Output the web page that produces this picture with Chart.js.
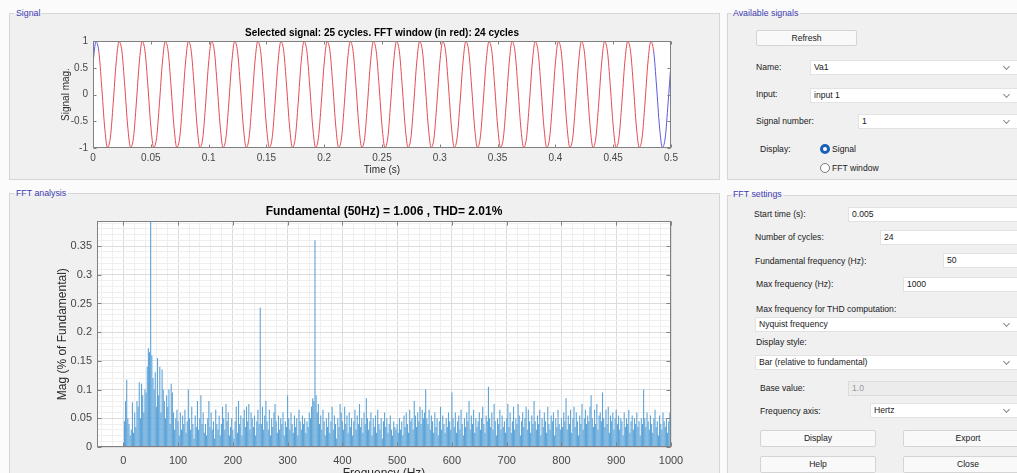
<!DOCTYPE html>
<html>
<head>
<meta charset="utf-8">
<title>FFT Analysis</title>
<script src="https://cdn.jsdelivr.net/npm/chart.js@4.4.0/dist/chart.umd.min.js"></script>
<style>
  html, body { margin: 0; padding: 0; width: 1017px; height: 473px; overflow: hidden; background: #fbfbfb;
    font-family: "Liberation Sans", Arial, Helvetica, sans-serif; }
  .panel { position: absolute; background: #f0f0f0; border: 1px solid #d6d6d6; box-sizing: border-box; }
  .ptitle { position: absolute; font-size: 8.8px; line-height: 10px; color: #3b3bb0; padding: 0 2px; z-index: 3;
    background: linear-gradient(to bottom, #fbfbfb 50%, #f0f0f0 50%); white-space: nowrap; }
  canvas { position: absolute; z-index: 2; }
  .lbl { position: absolute; font-size: 8.6px; line-height: 12px; color: #202020; white-space: nowrap; }
  .box { position: absolute; background: #ffffff; border: 1px solid #e2e2e2; box-sizing: border-box; height: 15px;
    font-size: 8.6px; line-height: 13px; padding-left: 3px; color: #202020; white-space: nowrap; }
  .box.dis { background: #ececec; color: #9a9a9a; border-color: #dcdcdc; }
  .dd::after { content: ""; position: absolute; right: 11px; top: 3px; width: 4px; height: 4px;
    border-right: 1px solid #8a8a8a; border-bottom: 1px solid #8a8a8a; transform: rotate(45deg); }
  .btn { position: absolute; background: #f9f9f9; border: 1px solid #d4d4d4; border-radius: 2px; box-sizing: border-box;
    text-align: center; font-size: 8.6px; color: #202020; }
  .radio { position: absolute; width: 10px; height: 10px; border-radius: 50%; box-sizing: border-box; }
  .radio.on { border: 3px solid #1c5fb8; background: #ffffff; }
  .radio.off { border: 1px solid #7a7a7a; background: #ffffff; }
</style>
</head>
<body>

<!-- left side: signal and spectrum panels -->
<div class="panel" style="left:9px; top:13px; width:711px; height:167px;"></div>
<div class="ptitle" style="left:14px; top:8px;">Signal</div>
<div class="panel" style="left:9px; top:193px; width:711px; height:300px;"></div>
<div class="ptitle" style="left:14px; top:188px;">FFT analysis</div>

<canvas id="signalChart" width="715" height="185" style="left:0; top:0;"></canvas>
<canvas id="fftChart" width="715" height="300" style="left:0; top:185px;"></canvas>

<!-- right side: signal selection -->
<div class="panel" style="left:727px; top:13px; width:300px; height:167px;"></div>
<div class="ptitle" style="left:731px; top:8px;">Available signals</div>
<div class="btn" style="left:756px; top:30px; width:101px; height:16px; line-height:14px;">Refresh</div>
<div class="lbl" style="left:756px; top:61px;">Name:</div>
<div class="box dd" style="left:810px; top:60px; width:211px;">Va1</div>
<div class="lbl" style="left:756px; top:88px;">Input:</div>
<div class="box dd" style="left:810px; top:88px; width:211px;">input 1</div>
<div class="lbl" style="left:756px; top:115px;">Signal number:</div>
<div class="box dd" style="left:858px; top:114px; width:163px;">1</div>
<div class="lbl" style="left:760px; top:143px;">Display:</div>
<div class="radio on" style="left:820px; top:144px;"></div>
<div class="lbl" style="left:832px; top:143px;">Signal</div>
<div class="radio off" style="left:820px; top:163px;"></div>
<div class="lbl" style="left:832px; top:162px;">FFT window</div>

<!-- right side: FFT settings -->
<div class="panel" style="left:727px; top:195px; width:300px; height:300px;"></div>
<div class="ptitle" style="left:731px; top:189px;">FFT settings</div>
<div class="lbl" style="left:754px; top:208px;">Start time (s):</div>
<div class="box" style="left:848px; top:207px; width:173px;">0.005</div>
<div class="lbl" style="left:755px; top:231px;">Number of cycles:</div>
<div class="box" style="left:880px; top:230px; width:141px;">24</div>
<div class="lbl" style="left:755px; top:255px;">Fundamental frequency (Hz):</div>
<div class="box" style="left:943px; top:253px; width:78px;">50</div>
<div class="lbl" style="left:756px; top:278px;">Max frequency (Hz):</div>
<div class="box" style="left:903px; top:277px; width:118px;">1000</div>
<div class="lbl" style="left:756px; top:303px;">Max frequency for THD computation:</div>
<div class="box dd" style="left:755px; top:317px; width:266px;">Nyquist frequency</div>
<div class="lbl" style="left:756px; top:336px;">Display style:</div>
<div class="box dd" style="left:755px; top:355px; width:266px;">Bar (relative to fundamental)</div>
<div class="lbl" style="left:760px; top:382px;">Base value:</div>
<div class="box dis" style="left:848px; top:381px; width:173px;">1.0</div>
<div class="lbl" style="left:760px; top:405px;">Frequency axis:</div>
<div class="box dd" style="left:870px; top:403px; width:151px;">Hertz</div>
<div class="btn" style="left:760px; top:430px; width:116px; height:17px; line-height:15px;">Display</div>
<div class="btn" style="left:903px; top:430px; width:130px; height:17px; line-height:15px;">Export</div>
<div class="btn" style="left:760px; top:456px; width:116px; height:17px; line-height:15px;">Help</div>
<div class="btn" style="left:903px; top:456px; width:130px; height:17px; line-height:15px;">Close</div>

<script>
// ---- recorded signal (Va1), sampled every 2.5 ms over 0 .. 0.5 s ----
const sampleStep = 0.0025;            // s
const signalMag = [
  0.588, 0.988, 0.809, 0.156, -0.588, -0.988, -0.809, -0.156,
  0.588, 0.988, 0.809, 0.156, -0.588, -0.988, -0.809, -0.156,
  0.588, 0.988, 0.809, 0.156, -0.588, -0.988, -0.809, -0.156,
  0.588, 0.988, 0.809, 0.156, -0.588, -0.988, -0.809, -0.156,
  0.588, 0.988, 0.809, 0.156, -0.588, -0.988, -0.809, -0.156,
  0.588, 0.988, 0.809, 0.156, -0.588, -0.988, -0.809, -0.156,
  0.588, 0.988, 0.809, 0.156, -0.588, -0.988, -0.809, -0.156,
  0.588, 0.988, 0.809, 0.156, -0.588, -0.988, -0.809, -0.156,
  0.588, 0.988, 0.809, 0.156, -0.588, -0.988, -0.809, -0.156,
  0.588, 0.988, 0.809, 0.156, -0.588, -0.988, -0.809, -0.156,
  0.588, 0.988, 0.809, 0.156, -0.588, -0.988, -0.809, -0.156,
  0.588, 0.988, 0.809, 0.156, -0.588, -0.988, -0.809, -0.156,
  0.588, 0.988, 0.809, 0.156, -0.588, -0.988, -0.809, -0.156,
  0.588, 0.988, 0.809, 0.156, -0.588, -0.988, -0.809, -0.156,
  0.588, 0.988, 0.809, 0.156, -0.588, -0.988, -0.809, -0.156,
  0.588, 0.988, 0.809, 0.156, -0.588, -0.988, -0.809, -0.156,
  0.588, 0.988, 0.809, 0.156, -0.588, -0.988, -0.809, -0.156,
  0.588, 0.988, 0.809, 0.156, -0.588, -0.988, -0.809, -0.156,
  0.588, 0.988, 0.809, 0.156, -0.588, -0.988, -0.809, -0.156,
  0.588, 0.988, 0.809, 0.156, -0.588, -0.988, -0.809, -0.156,
  0.588, 0.988, 0.809, 0.156, -0.588, -0.988, -0.809, -0.156,
  0.588, 0.988, 0.809, 0.156, -0.588, -0.988, -0.809, -0.156,
  0.588, 0.988, 0.809, 0.156, -0.588, -0.988, -0.809, -0.156,
  0.588, 0.988, 0.809, 0.156, -0.588, -0.988, -0.809, -0.156,
  0.588, 0.988, 0.809, 0.156, -0.588, -0.988, -0.809, -0.156,
  0.588
];
// FFT window: 24 cycles starting at 0.005 s (sample 2) and ending at 0.485 s (sample 194)
const windowFirstSample = 2;
const windowLastSample = 194;

const timeTicks = [0, 0.05, 0.1, 0.15, 0.2, 0.25, 0.3, 0.35, 0.4, 0.45, 0.5];
const timeTickLabels = ['0', '0.05', '0.1', '0.15', '0.2', '0.25', '0.3', '0.35', '0.4', '0.45', '0.5'];
const magTicks = [-1, -0.5, 0, 0.5, 1];
const magTickLabels = ['-1', '-0.5', '0', '0.5', '1'];

// ---- spectrum: magnitude in % of the 50 Hz fundamental, one bin per 50/24 Hz, 0 .. 1000 Hz ----
const fundamentalHz = 50;
const windowCycles = 24;
const fftMag = [
  // 0 - 48 Hz
  0, 0.045, 0.08, 0.117, 0.05, 0.04, 0.02, 0.03,   0.078, 0.025, 0.06, 0.035, 0.08, 0.07, 0.113, 0.05,   0.11, 0.09, 0.06, 0.1, 0.095, 0.14, 0.172, 0.165,
  // 50 - 98 Hz (fundamental first)
  100, 0.16, 0.12, 0.1, 0.13, 0.07, 0.155, 0.09,   0.14, 0.06, 0.135, 0.1, 0.08, 0.05, 0.09, 0.07,   0.1, 0.04, 0.11, 0.095, 0.06, 0.03, 0.05, 0.065,
  // 100 - 148 Hz
  0.045, 0.02, 0.06, 0.03, 0.055, 0.04, 0.065, 0.025,   0.045, 0.1, 0.05, 0.03, 0.07, 0.04, 0.015, 0.055,   0.035, 0.08, 0.03, 0.05, 0.09, 0.04, 0.06, 0.025,
  // 150 - 198 Hz
  0.04, 0.02, 0.05, 0.08, 0.035, 0.06, 0.03, 0.045,   0.015, 0.065, 0.04, 0.03, 0.055, 0.02, 0.04, 0.07,   0.05, 0.03, 0.075, 0.045, 0.06, 0.02, 0.035, 0.05,
  // 200 - 248 Hz
  0.03, 0.015, 0.045, 0.07, 0.025, 0.08, 0.04, 0.055,   0.02, 0.05, 0.065, 0.035, 0.07, 0.045, 0.075, 0.03,   0.06, 0.05, 0.035, 0.055, 0.02, 0.045, 0.065, 0.04,
  // 250 - 298 Hz (5th harmonic first)
  0.243, 0.04, 0.07, 0.03, 0.055, 0.08, 0.045, 0.03,   0.065, 0.02, 0.05, 0.035, 0.06, 0.075, 0.045, 0.025,   0.055, 0.03, 0.05, 0.04, 0.06, 0.02, 0.045, 0.035,
  // 300 - 348 Hz
  0.09, 0.05, 0.03, 0.06, 0.04, 0.025, 0.055, 0.035,   0.05, 0.02, 0.065, 0.045, 0.03, 0.055, 0.04, 0.05,   0.025, 0.045, 0.035, 0.06, 0.05, 0.07, 0.085, 0.08,
  // 350 - 398 Hz (7th harmonic first)
  0.36, 0.09, 0.06, 0.075, 0.04, 0.055, 0.03, 0.065,   0.045, 0.02, 0.05, 0.035, 0.06, 0.025, 0.045, 0.07,   0.03, 0.055, 0.04, 0.015, 0.05, 0.035, 0.075, 0.06,
  // 400 - 448 Hz
  0.045, 0.03, 0.07, 0.04, 0.055, 0.025, 0.06, 0.035,   0.05, 0.02, 0.045, 0.065, 0.03, 0.055, 0.04, 0.075,   0.035, 0.05, 0.025, 0.06, 0.04, 0.085, 0.05, 0.03,
  // 450 - 498 Hz
  0.045, 0.06, 0.02, 0.05, 0.035, 0.055, 0.025, 0.065,   0.04, 0.03, 0.05, 0.015, 0.045, 0.06, 0.035, 0.05,   0.025, 0.04, 0.055, 0.03, 0.02, 0.045, 0.035, 0.03,
  // 500 - 548 Hz
  0.04, 0.025, 0.05, 0.03, 0.045, 0.02, 0.055, 0.035,   0.06, 0.04, 0.025, 0.065, 0.045, 0.05, 0.03, 0.08,   0.055, 0.035, 0.06, 0.045, 0.07, 0.04, 0.065, 0.05,
  // 550 - 598 Hz
  0.06, 0.1, 0.05, 0.04, 0.065, 0.03, 0.055, 0.045,   0.025, 0.06, 0.035, 0.05, 0.02, 0.045, 0.07, 0.03,   0.055, 0.04, 0.025, 0.05, 0.035, 0.06, 0.045, 0.03,
  // 600 - 648 Hz
  0.095, 0.05, 0.035, 0.06, 0.025, 0.045, 0.055, 0.03,   0.065, 0.04, 0.02, 0.05, 0.035, 0.06, 0.045, 0.08,   0.03, 0.055, 0.04, 0.065, 0.025, 0.05, 0.035, 0.045,
  // 650 - 698 Hz
  0.06, 0.03, 0.05, 0.07, 0.04, 0.025, 0.055, 0.045,   0.105, 0.05, 0.035, 0.06, 0.03, 0.075, 0.045, 0.02,   0.05, 0.04, 0.065, 0.03, 0.055, 0.035, 0.045, 0.025,
  // 700 - 748 Hz
  0.05, 0.075, 0.035, 0.06, 0.025, 0.045, 0.07, 0.03,   0.05, 0.04, 0.075, 0.055, 0.02, 0.045, 0.06, 0.035,   0.05, 0.07, 0.03, 0.065, 0.045, 0.025, 0.055, 0.04,
  // 750 - 798 Hz
  0.08, 0.045, 0.03, 0.055, 0.04, 0.065, 0.02, 0.05,   0.035, 0.06, 0.045, 0.025, 0.07, 0.04, 0.03, 0.055,   0.045, 0.06, 0.02, 0.05, 0.035, 0.065, 0.04, 0.03,
  // 800 - 848 Hz
  0.05, 0.035, 0.06, 0.045, 0.085, 0.03, 0.055, 0.04,   0.065, 0.025, 0.05, 0.07, 0.035, 0.06, 0.045, 0.02,   0.055, 0.04, 0.075, 0.03, 0.05, 0.065, 0.04, 0.055,
  // 850 - 898 Hz
  0.045, 0.07, 0.09, 0.05, 0.035, 0.065, 0.04, 0.075,   0.03, 0.055, 0.06, 0.045, 0.095, 0.05, 0.035, 0.065,   0.04, 0.07, 0.025, 0.055, 0.045, 0.06, 0.03, 0.05,
  // 900 - 948 Hz
  0.065, 0.04, 0.055, 0.03, 0.05, 0.045, 0.02, 0.06,   0.035, 0.05, 0.04, 0.065, 0.025, 0.045, 0.055, 0.03,   0.05, 0.04, 0.06, 0.035, 0.045, 0.02, 0.05, 0.04,
  // 950 - 998 Hz
  0.1, 0.05, 0.035, 0.06, 0.045, 0.03, 0.055, 0.04,   0.025, 0.05, 0.065, 0.035, 0.045, 0.02, 0.055, 0.04,   0.03, 0.06, 0.045, 0.035, 0.05, 0.025, 0.045, 0.06,
  // 1000 Hz
  0.075
];

const freqTicks = [0, 100, 200, 300, 400, 500, 600, 700, 800, 900, 1000];
const freqTickLabels = ['0', '100', '200', '300', '400', '500', '600', '700', '800', '900', '1000'];
const fftMagTicks = [0, 0.05, 0.1, 0.15, 0.2, 0.25, 0.3, 0.35];
const fftMagTickLabels = ['0', '0.05', '0.1', '0.15', '0.2', '0.25', '0.3', '0.35'];

// ---------------------------------------------------------------------------
Chart.defaults.font.family = "'Liberation Sans', Arial, Helvetica, sans-serif";
Chart.defaults.color = '#474747';
Chart.defaults.animation = false;

function labelFor(values, labels, v) {
  const i = values.findIndex(t => Math.abs(t - v) < 1e-9);
  return i < 0 ? '' : labels[i];
}
function isMajor(values, v) {
  return values.some(t => Math.abs(t - v) < 1e-9);
}

// white axes background, box outline and inward tick marks
const axesBox = {
  id: 'axesBox',
  beforeDraw(chart) {
    const { ctx, chartArea: a } = chart;
    ctx.save();
    ctx.fillStyle = '#ffffff';
    ctx.fillRect(a.left, a.top, a.right - a.left, a.bottom - a.top);
    ctx.restore();
  },
  afterDraw(chart, args, opts) {
    const { ctx, chartArea: a, scales } = chart;
    const L = Math.round(a.left) + 0.5, R = Math.round(a.right) - 0.5;
    const T = Math.round(a.top) + 0.5, B = Math.round(a.bottom) - 0.5;
    ctx.save();
    ctx.strokeStyle = opts.color;
    ctx.lineWidth = 1;
    ctx.beginPath();
    for (const v of opts.xMajor) {
      const p = Math.round(scales.x.getPixelForValue(v)) + 0.5;
      ctx.moveTo(p, B); ctx.lineTo(p, B - opts.len);
      ctx.moveTo(p, T); ctx.lineTo(p, T + opts.len);
    }
    for (const v of opts.yMajor) {
      const p = Math.round(scales.y.getPixelForValue(v)) + 0.5;
      ctx.moveTo(L, p); ctx.lineTo(L + opts.len, p);
      ctx.moveTo(R, p); ctx.lineTo(R - opts.len, p);
    }
    ctx.stroke();
    ctx.strokeRect(L, T, R - L, B - T);
    ctx.restore();
  }
};

// ---- time-domain plot: whole record in blue, FFT window segments in red ----
const signalPoints = signalMag.map((v, i) => ({ x: i * sampleStep, y: v }));
const inWindow = i => i >= windowFirstSample && i < windowLastSample;

new Chart(document.getElementById('signalChart'), {
  type: 'line',
  data: {
    datasets: [
      { label: 'Va1', data: signalPoints, borderColor: '#5a5ae0', borderWidth: 1,
        pointRadius: 0, cubicInterpolationMode: 'monotone',
        segment: { borderColor: c => inWindow(c.p0DataIndex) ? '#e64b52' : '#5a5ae0' } }
    ]
  },
  options: {
    responsive: false,
    devicePixelRatio: 1,
    layout: { padding: { left: 56, right: 44, top: 20, bottom: 0 } },
    plugins: {
      legend: { display: false },
      tooltip: { enabled: false },
      title: { display: true, fullSize: false, text: 'Selected signal: 25 cycles. FFT window (in red): 24 cycles',
        color: '#000000', font: { size: 10, weight: 'bold' }, padding: { top: 7, bottom: 2 } },
      axesBox: { color: '#808080', len: 3, xMajor: timeTicks, yMajor: magTicks }
    },
    scales: {
      x: {
        type: 'linear', min: 0, max: 0.5,
        afterBuildTicks: s => { s.ticks = timeTicks.map(v => ({ value: v })); },
        afterFit: s => { s.height = 37; },
        grid: { display: false, drawTicks: false },
        border: { display: false },
        ticks: { autoSkip: false, maxRotation: 0, padding: 4, font: { size: 10 },
          callback: v => labelFor(timeTicks, timeTickLabels, v) },
        title: { display: true, text: 'Time (s)', color: '#2a2a2a', font: { size: 10 }, padding: { top: 0, bottom: 9 } }
      },
      y: {
        type: 'linear', min: -1, max: 1,
        afterBuildTicks: s => { s.ticks = magTicks.map(v => ({ value: v })); },
        afterFit: s => { s.width = 37; },
        grid: { display: false, drawTicks: false },
        border: { display: false },
        ticks: { autoSkip: false, padding: 5, font: { size: 10 },
          callback: v => labelFor(magTicks, magTickLabels, v) },
        title: { display: true, text: 'Signal mag.', color: '#2a2a2a', font: { size: 10 }, padding: { top: 4, bottom: 0 } }
      }
    }
  },
  plugins: [axesBox]
});

// ---- spectrum plot ----
const binHz = fundamentalHz / windowCycles;
const fftPoints = fftMag.map((v, k) => ({ x: k * binHz, y: v }));

// minor grid positions: every 20 Hz and every 0.01 %
const freqGrid = [];
for (let f = -40; f <= 1000; f += 20) freqGrid.push(f);
const magGrid = [];
for (let m = 0; m <= 39; m++) magGrid.push(m / 100);

new Chart(document.getElementById('fftChart'), {
  type: 'bar',
  data: {
    datasets: [{
      label: 'Mag', data: fftPoints, backgroundColor: '#5ba3d8', borderWidth: 0,
      barPercentage: 1, categoryPercentage: 0.95, clip: 0
    }]
  },
  options: {
    responsive: false,
    devicePixelRatio: 1,
    layout: { padding: { left: 48, right: 44, top: 12, bottom: 0 } },
    plugins: {
      legend: { display: false },
      tooltip: { enabled: false },
      title: { display: true, fullSize: false, text: 'Fundamental (50Hz) = 1.006 , THD= 2.01%',
        color: '#000000', font: { size: 12, weight: 'bold' }, padding: { top: 7, bottom: 3 } },
      axesBox: { color: '#808080', len: 4, xMajor: freqTicks, yMajor: fftMagTicks }
    },
    scales: {
      x: {
        type: 'linear', min: -48, max: 1000, offset: false,
        afterBuildTicks: s => { s.ticks = freqGrid.map(v => ({ value: v })); },
        afterFit: s => { s.height = 38; },
        grid: { drawTicks: false, offset: false, lineWidth: 1,
          color: c => isMajor(freqTicks, c.tick.value) ? '#dcdcdc' : '#efefef' },
        border: { display: false },
        ticks: { autoSkip: false, maxRotation: 0, padding: 7, font: { size: 11 },
          callback: v => labelFor(freqTicks, freqTickLabels, v) },
        title: { display: true, text: 'Frequency (Hz)', color: '#2a2a2a', font: { size: 12 }, padding: { top: 0, bottom: 4 } }
      },
      y: {
        type: 'linear', min: 0, max: 0.393,
        afterBuildTicks: s => { s.ticks = magGrid.map(v => ({ value: v })); },
        afterFit: s => { s.width = 49; },
        grid: { drawTicks: false, lineWidth: 1,
          color: c => isMajor(fftMagTicks, c.tick.value) ? '#dcdcdc' : '#efefef' },
        border: { display: false },
        ticks: { autoSkip: false, padding: 5, font: { size: 11 },
          callback: v => labelFor(fftMagTicks, fftMagTickLabels, v) },
        title: { display: true, text: 'Mag (% of Fundamental)', color: '#2a2a2a', font: { size: 12 }, padding: { top: 7, bottom: 0 } }
      }
    }
  },
  plugins: [axesBox]
});
</script>
</body>
</html>
